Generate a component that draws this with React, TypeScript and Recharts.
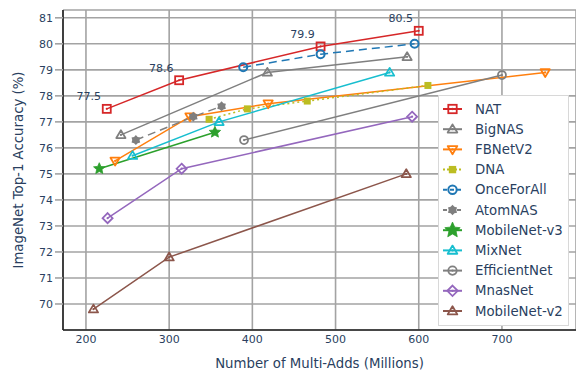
import React from 'react';
import { LineChart, Line, XAxis, YAxis, CartesianGrid, Legend, LabelList } from 'recharts';

// Multi-Adds (millions) vs ImageNet top-1 accuracy (%) per model family
const nat = [
  { x: 225, y: 77.5 },
  { x: 312, y: 78.6 },
  { x: 482, y: 79.9 },
  { x: 600, y: 80.5 },
];
const bigNas = [
  { x: 242, y: 76.5 },
  { x: 418, y: 78.9 },
  { x: 586, y: 79.5 },
];
const fbNetV2 = [
  { x: 235, y: 75.5 },
  { x: 325, y: 77.2 },
  { x: 419, y: 77.7 },
  { x: 752, y: 78.9 },
];
const dna = [
  { x: 348, y: 77.1 },
  { x: 394, y: 77.5 },
  { x: 466, y: 77.8 },
  { x: 611, y: 78.4 },
];
const onceForAll = [
  { x: 389, y: 79.1 },
  { x: 482, y: 79.6 },
  { x: 595, y: 80.0 },
];
const atomNas = [
  { x: 260, y: 76.3 },
  { x: 329, y: 77.2 },
  { x: 363, y: 77.6 },
];
const mobileNetV3 = [
  { x: 216, y: 75.2 },
  { x: 355, y: 76.6 },
];
const mixNet = [
  { x: 256, y: 75.7 },
  { x: 360, y: 77.0 },
  { x: 565, y: 78.9 },
];
const efficientNet = [
  { x: 390, y: 76.3 },
  { x: 700, y: 78.8 },
];
const mnasNet = [
  { x: 226, y: 73.3 },
  { x: 315, y: 75.2 },
  { x: 592, y: 77.2 },
];
const mobileNetV2 = [
  { x: 209, y: 69.8 },
  { x: 300, y: 71.8 },
  { x: 585, y: 75.0 },
];

const xTicks = [200, 300, 400, 500, 600, 700];
const yTicks = [70, 71, 72, 73, 74, 75, 76, 77, 78, 79, 80, 81];

const TEXT = '#2a3f5f';
const GRID = '#a3a3a3';
const FONT = '"DejaVu Sans", Verdana, sans-serif';

type Shape =
  | 'square-open-dot'
  | 'triangle-up-open-dot'
  | 'triangle-down-open-dot'
  | 'square'
  | 'circle-open'
  | 'hexagram'
  | 'star'
  | 'circle-open-dot'
  | 'diamond-open-dot';

interface Series {
  name: string;
  color: string;
  shape: Shape;
  dash?: string;
  data: { x: number; y: number }[];
}

const series: Series[] = [
  { name: 'NAT', color: '#d62728', shape: 'square-open-dot', data: nat },
  { name: 'BigNAS', color: '#7f7f7f', shape: 'triangle-up-open-dot', data: bigNas },
  { name: 'FBNetV2', color: '#ff7f0e', shape: 'triangle-down-open-dot', data: fbNetV2 },
  { name: 'DNA', color: '#bcbd22', shape: 'square', dash: '2 3', data: dna },
  { name: 'OnceForAll', color: '#1f77b4', shape: 'circle-open', dash: '8 5', data: onceForAll },
  { name: 'AtomNAS', color: '#7f7f7f', shape: 'hexagram', dash: '8 5', data: atomNas },
  { name: 'MobileNet-v3', color: '#2ca02c', shape: 'star', data: mobileNetV3 },
  { name: 'MixNet', color: '#17becf', shape: 'triangle-up-open-dot', data: mixNet },
  { name: 'EfficientNet', color: '#7f7f7f', shape: 'circle-open-dot', data: efficientNet },
  { name: 'MnasNet', color: '#9467bd', shape: 'diamond-open-dot', data: mnasNet },
  { name: 'MobileNet-v2', color: '#8c564b', shape: 'triangle-up-open-dot', data: mobileNetV2 },
];

function starPoints(cx: number, cy: number, n: number, ro: number, ri: number): string {
  const pts: string[] = [];
  for (let i = 0; i < n * 2; i++) {
    const r = i % 2 === 0 ? ro : ri;
    const a = -Math.PI / 2 + (i * Math.PI) / n;
    pts.push(`${(cx + r * Math.cos(a)).toFixed(2)},${(cy + r * Math.sin(a)).toFixed(2)}`);
  }
  return pts.join(' ');
}

function Marker({ shape, cx, cy, color, scale = 1 }: { shape: Shape; cx: number; cy: number; color: string; scale?: number }) {
  const s = scale;
  const sw = 1.8;
  const dot = <circle cx={cx} cy={cy} r={1.1 * s} fill={color} />;
  switch (shape) {
    case 'square-open-dot':
      return (
        <g>
          <rect x={cx - 4 * s} y={cy - 4 * s} width={8 * s} height={8 * s} fill="none" stroke={color} strokeWidth={sw} />
          {dot}
        </g>
      );
    case 'triangle-up-open-dot':
      return (
        <g>
          <polygon
            points={`${cx},${cy - 4.6 * s} ${cx + 4.6 * s},${cy + 3.2 * s} ${cx - 4.6 * s},${cy + 3.2 * s}`}
            fill="none"
            stroke={color}
            strokeWidth={sw}
            strokeLinejoin="round"
          />
          {dot}
        </g>
      );
    case 'triangle-down-open-dot':
      return (
        <g>
          <polygon
            points={`${cx},${cy + 4.6 * s} ${cx + 4.6 * s},${cy - 3.2 * s} ${cx - 4.6 * s},${cy - 3.2 * s}`}
            fill="none"
            stroke={color}
            strokeWidth={sw}
            strokeLinejoin="round"
          />
          {dot}
        </g>
      );
    case 'square':
      return <rect x={cx - 3.5 * s} y={cy - 3.5 * s} width={7 * s} height={7 * s} fill={color} />;
    case 'circle-open':
      return <circle cx={cx} cy={cy} r={4 * s} fill="none" stroke={color} strokeWidth={2} />;
    case 'circle-open-dot':
      return (
        <g>
          <circle cx={cx} cy={cy} r={4 * s} fill="none" stroke={color} strokeWidth={sw} />
          {dot}
        </g>
      );
    case 'hexagram':
      return <polygon points={starPoints(cx, cy, 6, 5 * s, 3.6 * s)} fill={color} />;
    case 'star':
      return <polygon points={starPoints(cx, cy, 5, 6 * s, 2.8 * s)} fill={color} stroke={color} strokeWidth={0.8} strokeLinejoin="round" />;
    case 'diamond-open-dot':
      return (
        <g>
          <polygon
            points={`${cx},${cy - 5 * s} ${cx + 5 * s},${cy} ${cx},${cy + 5 * s} ${cx - 5 * s},${cy}`}
            fill="none"
            stroke={color}
            strokeWidth={sw}
          />
          {dot}
        </g>
      );
    default:
      return null;
  }
}

function LegendBox() {
  const w = 131;
  const h = 231;
  return (
    <svg width={w} height={h} style={{ display: 'block' }}>
      <rect x={0.5} y={0.5} width={w - 1} height={h - 1} fill="#ffffff" stroke="#d8d8d8" strokeWidth={1} />
      {series.map((s, i) => {
        const y = 14 + i * 20.2;
        return (
          <g key={s.name}>
            <line x1={5} x2={24} y1={y} y2={y} stroke={s.color} strokeWidth={2} strokeDasharray={s.dash ? (s.dash === '2 3' ? '2 2' : '4 3') : undefined} />
            <Marker shape={s.shape} cx={14.5} cy={y} color={s.color} scale={s.shape === 'star' ? 1.35 : 1.05} />
            <text x={37} y={y} dominantBaseline="central" fontSize={13.3} fontFamily={FONT} fill={TEXT}>
              {s.name}
            </text>
          </g>
        );
      })}
    </svg>
  );
}

const NatValueLabel = (props: any) => {
  const { x, y, value } = props;
  return (
    <text x={x - 18} y={y - 12} textAnchor="middle" dominantBaseline="central" fontSize={11} fontFamily={FONT} fill={TEXT}>
      {value}
    </text>
  );
};

export default function App() {
  return (
    <div style={{ position: 'absolute', left: 0, top: 0, width: 576, height: 370, overflow: 'hidden', background: '#ffffff' }}>
      <LineChart width={576} height={370} margin={{ top: 10, right: 0, bottom: 0, left: 0 }}>
        <CartesianGrid stroke={GRID} strokeWidth={1.6} />
        <XAxis
          type="number"
          dataKey="x"
          domain={[172.4, 789]}
          ticks={xTicks}
          allowDataOverflow
          tickLine={false}
          tickSize={0}
          tickMargin={5}
          height={40}
          axisLine={{ stroke: '#222222', strokeWidth: 1.6 }}
          tick={{ fill: TEXT, fontSize: 11, fontFamily: FONT }}
          label={{
            content: (p: any) => {
              const vb = p.viewBox;
              return (
                <text x={319.5} y={vb.y + 33} textAnchor="middle" dominantBaseline="central" fontSize={13.3} fontFamily={FONT} fill={TEXT}>
                  Number of Multi-Adds (Millions)
                </text>
              );
            },
          }}
        />
        <XAxis
          xAxisId="top"
          orientation="top"
          type="number"
          domain={[172.4, 789]}
          ticks={xTicks}
          tick={false}
          tickLine={false}
          height={0}
          axisLine={{ stroke: '#222222', strokeWidth: 1.6 }}
        />
        <YAxis
          type="number"
          domain={[69, 81.3]}
          ticks={yTicks}
          allowDataOverflow
          width={63}
          tickSize={8}
          tickMargin={2}
          tickLine={{ stroke: GRID, strokeWidth: 1.6 }}
          axisLine={{ stroke: '#222222', strokeWidth: 1.6 }}
          tick={{ fill: TEXT, fontSize: 11, fontFamily: FONT }}
          label={{
            content: (p: any) => {
              const vb = p.viewBox;
              const cx = 18;
              const cy = vb.y + vb.height / 2;
              return (
                <text
                  x={cx}
                  y={cy}
                  transform={`rotate(-90 ${cx} ${cy})`}
                  textAnchor="middle"
                  dominantBaseline="central"
                  fontSize={13.3}
                  fontFamily={FONT}
                  fill={TEXT}
                >
                  ImageNet Top-1 Accuracy (%)
                </text>
              );
            },
          }}
        />
        <Legend
          layout="vertical"
          align="center"
          verticalAlign="middle"
          wrapperStyle={{ position: 'absolute', left: 438, top: 95, width: 131, height: 231 }}
          content={() => <LegendBox />}
        />
        {series.map((s) => (
          <Line
            key={s.name}
            name={s.name}
            data={s.data}
            dataKey="y"
            type="linear"
            stroke={s.color}
            strokeWidth={1.5}
            strokeDasharray={s.dash}
            isAnimationActive={false}
            activeDot={false}
            dot={(p: any) => (
              <Marker key={`${s.name}-${p.index}`} shape={s.shape} cx={p.cx} cy={p.cy} color={s.color} />
            )}
          >
            {s.name === 'NAT' ? <LabelList dataKey="y" content={NatValueLabel} /> : null}
          </Line>
        ))}
      </LineChart>
    </div>
  );
}
